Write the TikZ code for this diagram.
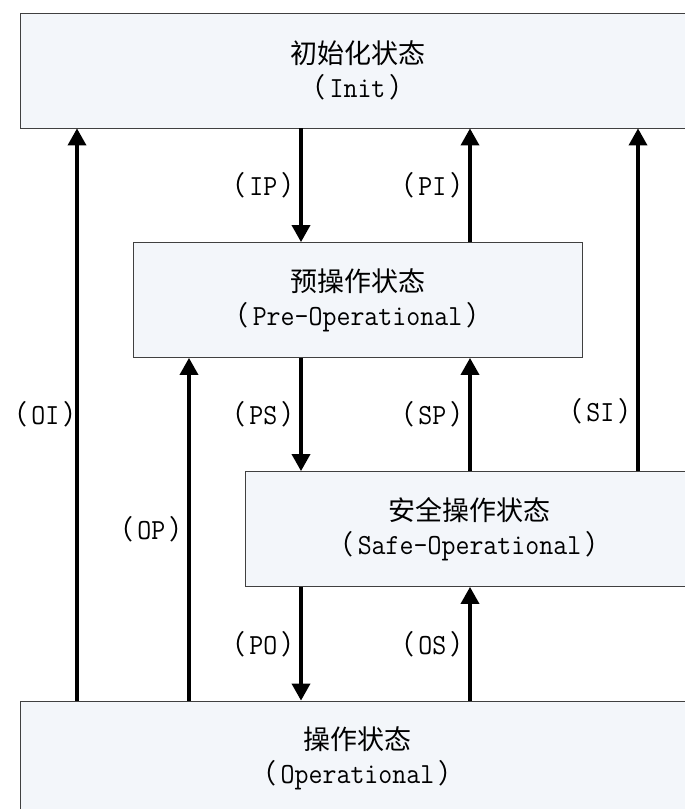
\documentclass[tikz,border=0pt]{standalone}
\usepackage{fontspec}
\setmainfont{Noto Sans CJK SC}
\newfontfamily\latinfont[Scale=1.08, FakeStretch=0.93]{Latin Modern Mono}
\usepackage{tikz}
\usetikzlibrary{arrows.meta, positioning}
\definecolor{boxfill}{RGB}{243,246,250}
\tikzstyle{state} = [rectangle, minimum height=115pt, text centered, align=center, draw=black!75, fill=boxfill, line width=0.8pt, font=\fontsize{27}{34}\selectfont]
\tikzstyle{widestate} = [state, minimum width=675pt]
\tikzstyle{narrowstate} = [state, minimum width=449pt]
\tikzstyle{arrow} = [line width=3.5pt, -{Triangle[length=17pt, width=18pt]}]
\tikzstyle{tag} = [anchor=east, inner sep=0pt, xshift=9pt, font=\fontsize{27}{34}\selectfont]
\newcommand{\engname}[1]{（\hspace{4pt}{\latinfont #1}\hspace{4pt}）}

\begin{document}
\begin{tikzpicture}[x=1pt, y=-1pt]
\useasboundingbox (0,0) rectangle (685,809);
\clip (0,0) rectangle (685,809);

% Nodes
\node (init) [widestate] at (357.5,70.5) {初始化状态\\\engname{Init}};

\node (preop) [narrowstate] at (357.5,300) {预操作状态\\\engname{Pre-Operational}};

\node (safeop) [narrowstate] at (469.5,529) {安全操作状态\\\engname{Safe-Operational}};

\node (op) [widestate] at (357.5,758.5) {操作状态\\\engname{Operational}};

% Columns for the transitions
\coordinate (c1) at (77,0);
\coordinate (c2) at (189,0);
\coordinate (c3) at (301,0);
\coordinate (c4) at (470,0);
\coordinate (c5) at (638,0);

% Arrows
\draw [arrow] (op.north -| c1) -- node (oi) [tag, xshift=6pt] {\engname{OI}} (init.south -| c1);
\draw [arrow] (op.north -| c2) -- node (opp) [tag] {\engname{OP}} (preop.south -| c2);
\draw [arrow] (init.south -| c3) -- node (ip) [tag] {\engname{IP}} (preop.north -| c3);
\draw [arrow] (preop.south -| c3) -- node (ps) [tag] {\engname{PS}} (safeop.north -| c3);
\draw [arrow] (safeop.south -| c3) -- node (po) [tag] {\engname{PO}} (op.north -| c3);
\draw [arrow] (preop.north -| c4) -- node (pi) [tag] {\engname{PI}} (init.south -| c4);
\draw [arrow] (safeop.north -| c4) -- node (sp) [tag] {\engname{SP}} (preop.south -| c4);
\draw [arrow] (op.north -| c4) -- node (os) [tag] {\engname{OS}} (safeop.south -| c4);
\draw [arrow] (safeop.north -| c5) -- node[pos=0.175] (si) [tag] {\engname{SI}} (init.south -| c5);

\end{tikzpicture}
\end{document}
